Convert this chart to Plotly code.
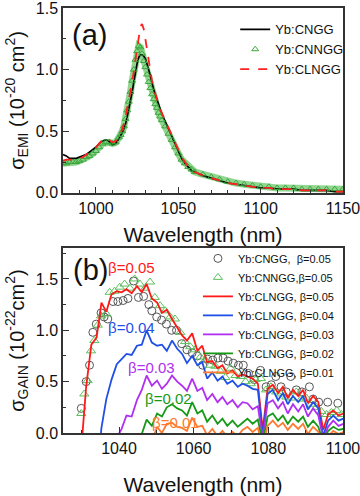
import plotly.graph_objects as go

FONT = "Liberation Sans, Arial, sans-serif"

# ---- (a) emission cross-section, 10^-20 cm^2 ----
wl_a = (list(range(980, 1015, 2)) + list(range(1015, 1041))
        + list(range(1042, 1061, 2)) + list(range(1065, 1151, 5)))
emi_cngg = [0.31, 0.30, 0.28, 0.28, 0.28, 0.29, 0.30, 0.31, 0.33, 0.35, 0.37, 0.40, 0.42, 0.43, 0.42, 0.39, 0.40, 0.44,
            0.46, 0.49, 0.52, 0.56, 0.62, 0.68, 0.75, 0.82, 0.90, 0.98, 1.05, 1.10, 1.12, 1.12, 1.11, 1.09, 1.05, 1.00,
            0.95, 0.89, 0.84, 0.80, 0.76, 0.71, 0.67, 0.64,
            0.58, 0.52, 0.46, 0.39, 0.33, 0.28, 0.24, 0.21, 0.18, 0.17,
            0.14, 0.12, 0.10, 0.08, 0.07, 0.06, 0.05, 0.04, 0.04, 0.03, 0.03, 0.03, 0.02, 0.02, 0.02, 0.02, 0.01, 0.01]
emi_cnngg = [0.24, 0.24, 0.25, 0.25, 0.25, 0.26, 0.27, 0.29, 0.30, 0.32, 0.34, 0.37, 0.40, 0.41, 0.41, 0.40, 0.41, 0.45,
             0.47, 0.50, 0.54, 0.60, 0.67, 0.74, 0.82, 0.91, 1.00, 1.08, 1.15, 1.19, 1.18, 1.13, 1.07, 1.02, 0.96, 0.90,
             0.85, 0.80, 0.76, 0.72, 0.69, 0.65, 0.62, 0.59,
             0.54, 0.48, 0.43, 0.37, 0.32, 0.27, 0.24, 0.21, 0.19, 0.17,
             0.15, 0.13, 0.11, 0.09, 0.08, 0.07, 0.06, 0.05, 0.05, 0.04, 0.04, 0.04, 0.03, 0.03, 0.03, 0.03, 0.03, 0.03]
emi_clngg = [0.26, 0.27, 0.27, 0.27, 0.27, 0.28, 0.29, 0.31, 0.33, 0.35, 0.37, 0.40, 0.43, 0.44, 0.43, 0.41, 0.42, 0.46,
             0.48, 0.52, 0.56, 0.62, 0.70, 0.77, 0.83, 0.90, 0.99, 1.08, 1.17, 1.27, 1.35, 1.37, 1.33, 1.25, 1.16, 1.07,
             0.98, 0.91, 0.85, 0.80, 0.76, 0.72, 0.68, 0.65,
             0.59, 0.53, 0.47, 0.40, 0.34, 0.29, 0.25, 0.21, 0.19, 0.17,
             0.14, 0.12, 0.10, 0.08, 0.07, 0.06, 0.05, 0.04, 0.04, 0.03, 0.03, 0.03, 0.02, 0.02, 0.02, 0.02, 0.01, 0.01]

# ---- (b) gain cross-section, 10^-22 cm^2 ----
wl_b = [1029.9, 1031.2, 1032.6, 1034.0, 1035.3, 1036.6, 1038.0, 1039.4, 1040.7, 1042.0, 1043.4, 1044.8, 1046.1,
        1047.4, 1048.8, 1050.2, 1051.5, 1052.8, 1054.2, 1055.6, 1056.9, 1058.2, 1059.6, 1061.0, 1062.3, 1063.6,
        1065.0, 1066.4, 1067.7, 1069.0, 1070.4, 1071.8, 1073.1, 1074.4, 1075.8, 1077.2, 1078.5, 1079.8, 1081.2,
        1082.6, 1083.9, 1085.2, 1086.6, 1088.0, 1089.3, 1090.6, 1092.0, 1093.4, 1094.7, 1096.0, 1097.4, 1098.8, 1100.1]
gain_005 = [-0.15, 0.45, 0.86, 0.93, 1.27, 1.18, 1.35, 1.38, 1.37, 1.40, 1.36, 1.43, 1.37, 1.45, 1.31, 1.27, 1.17,
            1.20, 1.11, 1.03, 0.95, 0.90, 0.97, 0.80, 0.85, 0.69, 0.70, 0.63, 0.66, 0.58, 0.61, 0.55, 0.57, 0.55,
            0.53, 0.48, 0.03, 0.43, 0.47, 0.39, 0.45, 0.34, 0.42, 0.36, 0.42, 0.29, 0.36, 0.30, 0.03, 0.18, 0.22,
            0.17, 0.19]
gain_004 = [-1.4, -1.1, -0.8, -0.45, 0.05, 0.33, 0.52, 0.67, 0.72, 0.77, 0.76, 0.85, 0.86, 1.00, 0.88, 0.85, 0.86,
            0.80, 0.90, 0.82, 0.77, 0.68, 0.75, 0.66, 0.69, 0.53, 0.59, 0.51, 0.55, 0.48, 0.51, 0.45, 0.48, 0.46,
            0.43, 0.42, -0.02, 0.38, 0.42, 0.32, 0.39, 0.28, 0.36, 0.30, 0.36, 0.23, 0.30, 0.24, -0.03, 0.12, 0.17,
            0.12, 0.14]
gain_003 = [-1.8, -1.5, -1.2, -0.9, -0.6, -0.4, -0.2, -0.05, 0.04, 0.17, 0.16, 0.32, 0.42, 0.56, 0.46, 0.51, 0.43,
            0.48, 0.56, 0.50, 0.46, 0.41, 0.53, 0.41, 0.44, 0.32, 0.38, 0.30, 0.35, 0.28, 0.32, 0.25, 0.30, 0.29,
            0.23, 0.26, -0.05, 0.29, 0.32, 0.24, 0.30, 0.19, 0.28, 0.21, 0.28, 0.16, 0.24, 0.17, -0.06, 0.06, 0.12,
            0.07, 0.09]
gain_002 = [-2.5, -2.2, -1.9, -1.6, -1.3, -1.1, -0.9, -0.7, -0.55, -0.4, -0.3, -0.15, 0.0, 0.13, 0.07, 0.19, 0.16,
            0.25, 0.28, 0.24, 0.22, 0.17, 0.30, 0.19, 0.22, 0.11, 0.17, 0.09, 0.14, 0.07, 0.12, 0.06, 0.10, 0.14,
            0.09, 0.13, -0.1, 0.16, 0.19, 0.12, 0.17, 0.09, 0.16, 0.11, 0.16, 0.06, 0.12, 0.06, -0.1, 0.02, 0.06,
            0.03, 0.04]
gain_001 = [-3.0, -2.7, -2.4, -2.1, -1.8, -1.6, -1.4, -1.2, -1.0, -0.8, -0.65, -0.5, -0.35, -0.2, -0.08, 0.06, 0.0,
            0.09, 0.10, 0.06, 0.05, 0.02, 0.15, 0.06, 0.07, -0.02, 0.04, -0.03, 0.02, -0.04, 0.01, -0.03, 0.03, 0.06,
            0.01, 0.05, -0.15, 0.07, 0.12, 0.06, 0.10, 0.03, 0.09, 0.04, 0.09, -0.01, 0.06, 0.01, -0.15, -0.03, 0.02,
            -0.01, 0.01]

wl_cngg_b = [1029.9, 1031.2, 1032.1, 1033.0, 1033.9, 1035.2, 1036.0, 1037.0, 1038.4, 1039.7, 1041.1, 1042.4, 1043.9,
             1045.2, 1046.6, 1048.0, 1048.8, 1050.1, 1051.4, 1052.7, 1054.1, 1055.4, 1056.8, 1058.2, 1059.6, 1061.0,
             1062.4, 1063.7, 1065.1, 1066.5, 1067.9, 1069.2, 1070.6, 1072.0, 1073.3, 1074.7, 1076.2, 1077.9, 1079.4,
             1080.8, 1082.0, 1083.4, 1084.8, 1086.0, 1087.5, 1089.0, 1091.0, 1092.0, 1093.5, 1095.9, 1098.6]
gain_cngg_b = [0.24, 0.50, 0.66, 0.98, 1.06, 1.17, 1.13, 1.11, 1.28, 1.28, 1.29, 1.31, 1.48, 1.32, 1.33, 1.25, 1.19,
               1.13, 1.10, 1.06, 1.00, 1.00, 0.87, 0.81, 0.78, 0.75, 0.66, 0.72, 0.71, 0.73, 0.73, 0.70, 0.68, 0.66,
               0.66, 0.58, 0.52, 0.61, 0.45, 0.47, 0.55, 0.45, 0.40, 0.55, 0.42, 0.40, 0.45, 0.33, 0.30, 0.30, 0.29]

wl_cnngg_b = [1029.9, 1030.7, 1031.6, 1032.5, 1033.4, 1034.3, 1035.2, 1036.6, 1037.5, 1038.8, 1040.2, 1041.5, 1042.9,
              1044.2, 1045.6, 1047.0, 1048.3, 1049.6, 1051.0, 1052.4, 1053.7, 1055.0, 1056.4, 1057.7, 1059.1, 1060.4,
              1061.8, 1063.1, 1064.5, 1065.8, 1067.2, 1068.5, 1069.9, 1071.2, 1072.6, 1073.9, 1075.3, 1076.6, 1078.0,
              1079.4, 1080.7, 1082.1, 1083.4, 1084.8, 1086.1, 1087.5, 1088.8, 1090.2, 1091.5, 1092.9, 1094.2, 1095.6,
              1096.9, 1098.3, 1099.6]
gain_cnngg_b = [0.19, 0.38, 0.51, 0.80, 0.90, 1.05, 1.14, 1.16, 1.37, 1.38, 1.42, 1.45, 1.41, 1.50, 1.45, 1.41, 1.47,
                1.32, 1.24, 1.19, 1.13, 1.11, 0.98, 0.89, 0.84, 0.81, 0.74, 0.71, 0.66, 0.65, 0.60, 0.54, 0.63, 0.56,
                0.55, 0.50, 0.48, 0.52, 0.53, 0.42, 0.45, 0.40, 0.38, 0.35, 0.34, 0.40, 0.33, 0.34, 0.28, 0.25, 0.21,
                0.18, 0.20, 0.22, 0.18]

beta_lines = [
    ("Yb:CLNGG, β=0.05", gain_005, "#ff1a1a"),
    ("Yb:CLNGG, β=0.04", gain_004, "#1f4fe6"),
    ("Yb:CLNGG, β=0.03", gain_003, "#b02ff0"),
    ("Yb:CLNGG, β=0.02", gain_002, "#169a16"),
    ("Yb:CLNGG, β=0.01", gain_001, "#ff7a2e"),
]

fig = go.Figure()

# panel (a)
fig.add_trace(go.Scatter(x=wl_a, y=emi_cnngg, mode="lines", showlegend=False,
                         line=dict(color="rgba(70,185,70,0.6)", width=7), xaxis="x", yaxis="y"))
fig.add_trace(go.Scatter(x=wl_a, y=emi_cngg, mode="lines", name="Yb:CNGG",
                         line=dict(color="black", width=1.7), xaxis="x", yaxis="y"))
fig.add_trace(go.Scatter(x=wl_a, y=emi_cnngg, mode="markers", name="Yb:CNNGG",
                         marker=dict(symbol="triangle-up-open", size=6, color="#3aa83a", line=dict(width=1)),
                         xaxis="x", yaxis="y"))
fig.add_trace(go.Scatter(x=wl_a, y=emi_clngg, mode="lines", name="Yb:CLNGG",
                         line=dict(color="#ff2020", width=1.8, dash="dash"), xaxis="x", yaxis="y"))

# panel (b)
fig.add_trace(go.Scatter(x=wl_cngg_b, y=gain_cngg_b, mode="markers", name="Yb:CNGG,  β=0.05",
                         marker=dict(symbol="circle-open", size=8, color="#555555", line=dict(width=1)),
                         xaxis="x2", yaxis="y2", legend="legend2"))
fig.add_trace(go.Scatter(x=wl_cnngg_b, y=gain_cnngg_b, mode="markers", name="Yb:CNNGG,β=0.05",
                         marker=dict(symbol="triangle-up-open", size=8, color="#5cc05c", line=dict(width=1)),
                         xaxis="x2", yaxis="y2", legend="legend2"))
for name, vals, col in beta_lines:
    fig.add_trace(go.Scatter(x=wl_b, y=vals, mode="lines", name=name,
                             line=dict(color=col, width=1.8), xaxis="x2", yaxis="y2", legend="legend2"))

axis_style = dict(showline=True, linecolor="#333333", linewidth=1.5, mirror=True, automargin=False,
                  ticks="inside", ticklen=6, tickwidth=1.3, tickcolor="#333333", ticklabeloverflow="allow",
                  showgrid=False, zeroline=False, tickfont=dict(size=16, color="#111111"))

fig.update_layout(
    width=360, height=496,
    margin=dict(l=63, r=17, t=8, b=63),
    paper_bgcolor="white", plot_bgcolor="white",
    font=dict(family=FONT, color="#111111"),
    xaxis=dict(axis_style, domain=[0, 1], anchor="y", range=[980, 1150], tick0=1000, dtick=50,
               minor=dict(ticks="inside", ticklen=3, dtick=10, tickcolor="#333333"),
               title=dict(text="Wavelength (nm)", font=dict(size=21), standoff=11)),
    yaxis=dict(axis_style, domain=[0.565, 1], anchor="x", range=[0, 1.5], dtick=0.5, tickformat=".1f",
               minor=dict(ticks="inside", ticklen=3, dtick=0.25, tickcolor="#333333"),
               title=dict(text="σ<sub>EMI</sub> (10<sup>-20</sup> cm<sup>2</sup>)", font=dict(size=20), standoff=6)),
    xaxis2=dict(axis_style, domain=[0, 1], anchor="y2", range=[1025, 1100], tick0=1000, dtick=20,
                minor=dict(ticks="inside", ticklen=3, dtick=10, tickcolor="#333333"),
                title=dict(text="Wavelength (nm)", font=dict(size=21), standoff=22)),
    yaxis2=dict(axis_style, domain=[0, 0.435], anchor="x2", range=[0, 1.8], dtick=0.5, tickformat=".1f",
                minor=dict(ticks="inside", ticklen=3, dtick=0.25, tickcolor="#333333"),
                title=dict(text="σ<sub>GAIN</sub> (10<sup>-22</sup>cm<sup>2</sup>)", font=dict(size=20), standoff=6)),
    legend=dict(x=0.615, y=0.985, xanchor="left", yanchor="top", bgcolor="rgba(0,0,0,0)",
                font=dict(size=13), itemwidth=30),
    legend2=dict(x=0.482, y=0.445, xanchor="left", yanchor="top", bgcolor="rgba(0,0,0,0)",
                 font=dict(size=11), itemwidth=30),
    showlegend=True,
)

annotations = [
    dict(text="(a)", x=0.025, y=0.936, xref="paper", yref="paper", xanchor="left", yanchor="middle",
         showarrow=False, font=dict(size=29)),
    dict(text="(b)", x=0.03, y=0.384, xref="paper", yref="paper", xanchor="left", yanchor="middle",
         showarrow=False, font=dict(size=29)),
]
beta_labels = [("β=0.05", 1043.4, 1.61, "#ff1a1a"), ("β=0.04", 1043.4, 1.03, "#1f4fe6"),
               ("β=0.03", 1048.7, 0.64, "#b02ff0"), ("β=0.02", 1053.2, 0.34, "#169a16"),
               ("β=0.01", 1055.0, 0.10, "#ff7a2e")]
for txt, bx, by, col in beta_labels:
    annotations.append(dict(text=txt, x=bx, y=by, xref="x2", yref="y2", showarrow=False,
                            font=dict(size=15, color=col)))
fig.update_layout(annotations=annotations)

# the page body has a default 8px margin; drop it so the figure fills the window
fig.write_html("out.html", config={"displayModeBar": False},
               post_script="document.body.style.margin='0';")
